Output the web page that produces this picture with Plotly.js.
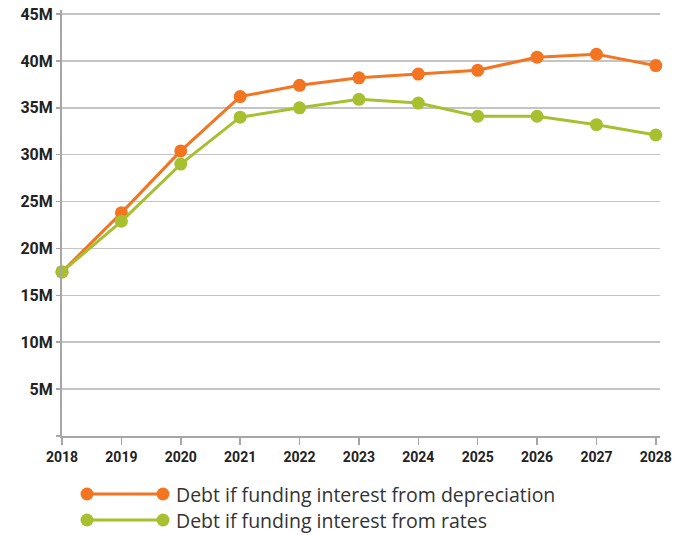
<!DOCTYPE html>
<html>
<head>
<meta charset="utf-8">
<script src="https://cdn.plot.ly/plotly-3.0.1.min.js"></script>
<style>html,body{margin:0;padding:0;background:#fff;}#chart{width:693px;height:535px;}</style>
</head>
<body>
<div id="chart"></div>
<script>
const years = [2018, 2019, 2020, 2021, 2022, 2023, 2024, 2025, 2026, 2027, 2028];
const depreciationDebt = [17.5, 23.8, 30.4, 36.2, 37.4, 38.2, 38.6, 39.0, 40.4, 40.7, 39.5];
const ratesDebt = [17.5, 22.9, 29.0, 34.0, 35.0, 35.9, 35.5, 34.1, 34.1, 33.2, 32.1];
const seriesNames = ["Debt if funding interest from depreciation", "Debt if funding interest from rates"];
const seriesColors = ["#f37421", "#a6c030"];
const yTickVals = [5, 10, 15, 20, 25, 30, 35, 40, 45];
const yTickText = ["5M", "10M", "15M", "20M", "25M", "30M", "35M", "40M", "45M"];

const traces = [
  {x: years, y: depreciationDebt, name: seriesNames[0], type: "scatter", mode: "lines+markers",
   line: {color: seriesColors[0], width: 3}, marker: {color: seriesColors[0], size: 13}, cliponaxis: false},
  {x: years, y: ratesDebt, name: seriesNames[1], type: "scatter", mode: "lines+markers",
   line: {color: seriesColors[1], width: 3}, marker: {color: seriesColors[1], size: 13}, cliponaxis: false}
];

// custom legend (paper coords below the plot)
const L = 62, W = 598, T = 10, H = 426;
function px2x(p){ return (p - L) / W; }
function py2y(p){ return (T + H - p) / H; }
const shapes = [];
const annotations = [];
const legendRows = [494, 520];
for (let i = 0; i < 2; i++) {
  const yy = py2y(legendRows[i]);
  shapes.push({type: "line", xref: "paper", yref: "paper", x0: px2x(87), x1: px2x(163), y0: yy, y1: yy,
               line: {color: seriesColors[i], width: 3}});
  [87, 163].forEach(cx => {
    shapes.push({type: "circle", xref: "paper", yref: "paper", xsizemode: "pixel", ysizemode: "pixel",
                 xanchor: px2x(cx), yanchor: yy, x0: -6.5, x1: 6.5, y0: -6.5, y1: 6.5,
                 fillcolor: seriesColors[i], line: {width: 0}});
  });
  annotations.push({xref: "paper", yref: "paper", x: px2x(175), y: yy, xanchor: "left", yanchor: "middle",
                    text: seriesNames[i], showarrow: false, borderpad: 0,
                    font: {family: "Open Sans, sans-serif", size: 19.5, color: "#333333"}});
}

const layout = {
  width: 693, height: 535,
  margin: {l: L, r: 693 - L - W, t: T, b: 535 - T - H},
  paper_bgcolor: "#ffffff", plot_bgcolor: "#ffffff",
  showlegend: false,
  xaxis: {
    range: [2018, 2028.07], tickvals: years, ticktext: years.map(String),
    showgrid: false, zeroline: false, showline: true, linecolor: "#a6a6a6", linewidth: 2,
    ticks: "outside", ticklen: 7, tickwidth: 1.5, tickcolor: "#a6a6a6",
    tickfont: {family: "Roboto, sans-serif", size: 14, color: "#222222", weight: "bold"}
  },
  yaxis: {
    range: [0, 45.43], tickvals: [0].concat(yTickVals), ticktext: [""].concat(yTickText),
    showgrid: true, gridcolor: "#c4c4c4", gridwidth: 1.5, zeroline: false,
    showline: true, linecolor: "#a6a6a6", linewidth: 2,
    ticks: "outside", ticklen: 4, tickwidth: 1.5, tickcolor: "#a6a6a6",
    tickfont: {family: "Roboto, sans-serif", size: 16, color: "#222222", weight: "bold"}
  },
  shapes: shapes,
  annotations: annotations
};

Plotly.newPlot("chart", traces, layout, {displayModeBar: false, staticPlot: true});
</script>
</body>
</html>
